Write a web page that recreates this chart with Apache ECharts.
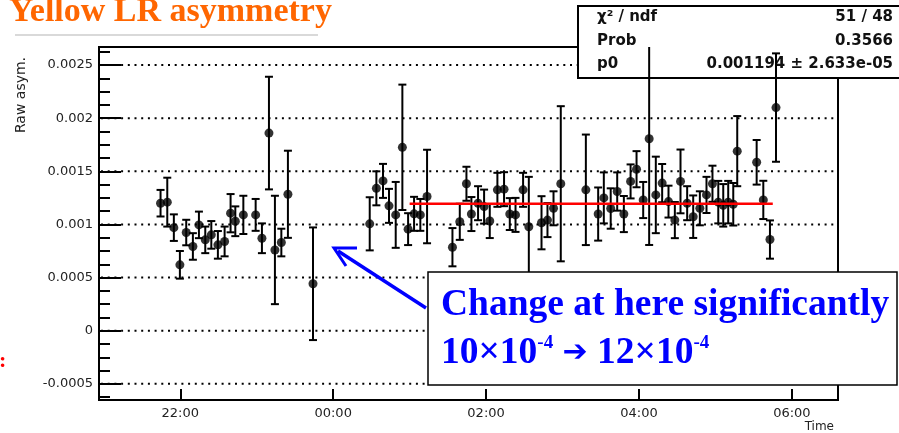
<!DOCTYPE html>
<html>
<head>
<meta charset="utf-8">
<script src="https://cdn.jsdelivr.net/npm/echarts@6/dist/echarts.min.js"></script>
<style>
  html, body { margin: 0; padding: 0; background: #fff; }
  #chart { width: 899px; height: 433px; }
</style>
</head>
<body>
<div id="chart"></div>
<script>
// ---- data (time in hours relative to 00:00) ----
const times = [
  -2.258, -2.170, -2.084, -2.005, -1.922, -1.835, -1.756, -1.673, -1.594, -1.508,
  -1.420, -1.342, -1.280, -1.175, -1.014, -0.932, -0.840, -0.762, -0.678, -0.592,
  -0.264,
  0.478, 0.565, 0.652, 0.730, 0.818, 0.905, 0.980, 1.058, 1.140, 1.228,
  1.560, 1.656, 1.743, 1.808, 1.895, 1.974, 2.048, 2.148, 2.235, 2.310,
  2.385, 2.484, 2.559, 2.725, 2.803, 2.882, 2.977, 3.305, 3.466, 3.540,
  3.630, 3.715, 3.802, 3.890, 3.968, 4.055, 4.133, 4.220, 4.303, 4.386,
  4.469, 4.543, 4.630, 4.709, 4.796, 4.883, 4.961, 5.037, 5.102, 5.167,
  5.233, 5.285, 5.539, 5.626, 5.713, 5.792
];
const values = [
  0.001200, 0.001210, 0.000970, 0.000620, 0.000924, 0.000793, 0.000996, 0.000855, 0.000902, 0.000808,
  0.000840, 0.001106, 0.001030, 0.001090, 0.001090, 0.000870, 0.001860, 0.000760, 0.000830, 0.001284,
  0.000442,
  0.001006, 0.001340, 0.001410, 0.001175, 0.001090, 0.001726, 0.000956, 0.001100, 0.001090, 0.001263,
  0.000786, 0.001025, 0.001383, 0.001098, 0.001200, 0.001168, 0.001032, 0.001326, 0.001332, 0.001098,
  0.001090, 0.001326, 0.000978, 0.001016, 0.001041, 0.001152, 0.001383, 0.001326, 0.001098, 0.001250,
  0.001150, 0.001310, 0.001098, 0.001405, 0.001520, 0.001230, 0.001807, 0.001278, 0.001389, 0.001215,
  0.001041, 0.001405, 0.001200, 0.001073, 0.001152, 0.001278, 0.001383, 0.001210, 0.001180, 0.001210,
  0.001190, 0.001690, 0.001585, 0.001231, 0.000858, 0.002100
];
const errors = [
  0.000125, 0.000230, 0.000125, 0.000130, 0.000120, 0.000125, 0.000125, 0.000125, 0.000130, 0.000130,
  0.000140, 0.000180, 0.000140, 0.000180, 0.000150, 0.000140, 0.000530, 0.000510, 0.000130, 0.000410,
  0.000530,
  0.000250, 0.000160, 0.000160, 0.000160, 0.000310, 0.000590, 0.000150, 0.000160, 0.000150, 0.000440,
  0.000180, 0.000170, 0.000160, 0.000160, 0.000160, 0.000160, 0.000160, 0.000160, 0.000160, 0.000150,
  0.000160, 0.000160, 0.000470, 0.000250, 0.000160, 0.000160, 0.000730, 0.000520, 0.000250, 0.000240,
  0.000190, 0.000180, 0.000170, 0.000160, 0.000170, 0.000170, 0.001000, 0.000360, 0.000180, 0.000150,
  0.000170, 0.000300, 0.000160, 0.000200, 0.000160, 0.000170, 0.000170, 0.000200, 0.000200, 0.000200,
  0.000200, 0.000330, 0.000210, 0.000180, 0.000180, 0.000510
];
// constant fit (p0) and its range
const fitP0 = 0.001194;
const fitRange = [1.0, 5.75];

// axis ticks
const xTicks = [-2, 0, 2, 4, 6];
const xTickLabels = ['22:00', '00:00', '02:00', '04:00', '06:00'];
const yTicks = [-0.0005, 0, 0.0005, 0.001, 0.0015, 0.002, 0.0025];
const yTickLabels = ['-0.0005', '0', '0.0005', '0.001', '0.0015', '0.002', '0.0025'];
const xRange = [-3.063, 6.603];
const yRange = [-0.000652, 0.00267];

// stats box text
const statNames = ['\u03c7\u00b2 / ndf', 'Prob', 'p0'];
const statValues = ['51 / 48', '0.3566', '0.001194 \u00b1 2.633e-05'];

// minor y ticks
const yMinor = [];
for (let k = -6; k <= 21; k++) { yMinor.push(k * 0.0005 / 4); }

const pts = times.map((t, i) => [t, values[i]]);
const bars = times.map((t, i) => [t, values[i] - errors[i], values[i] + errors[i]]);
const gridRows = yTicks.map(v => [xRange[0], v]);

const chart = echarts.init(document.getElementById('chart'), null, { renderer: 'canvas' });
const FONT = '"DejaVu Sans", sans-serif';
const txt = (x, y, text, font, fill, align, z) => ({
  type: 'text', x, y, z: z || 1,
  style: { text, fill, font, align: align || 'left', textAlign: align || 'left', verticalAlign: 'middle', textVerticalAlign: 'middle' }
});

const option = {
  backgroundColor: '#ffffff',
  animation: false,
  grid: { left: 99, right: 61, top: 47, bottom: 33, show: true, borderColor: '#000', borderWidth: 2, backgroundColor: 'transparent' },
  xAxis: {
    type: 'value', min: xRange[0], max: xRange[1],
    axisLine: { onZero: false, lineStyle: { color: '#000', width: 2 } },
    axisTick: { inside: true, length: 11, customValues: xTicks, lineStyle: { color: '#000', width: 2 } },
    axisLabel: { customValues: xTicks, margin: 7, color: '#222', fontFamily: FONT, fontSize: 13,
      formatter: v => { const i = xTicks.findIndex(t => Math.abs(t - v) < 1e-9); return i >= 0 ? xTickLabels[i] : ''; } },
    splitLine: { show: false }
  },
  yAxis: [{
    type: 'value', min: yRange[0], max: yRange[1],
    axisLine: { onZero: false, lineStyle: { color: '#000', width: 2 } },
    axisTick: { inside: true, length: 22, customValues: yTicks, lineStyle: { color: '#000', width: 2 } },
    axisLabel: { customValues: yTicks, margin: 6, color: '#222', fontFamily: FONT, fontSize: 13,
      formatter: v => { const i = yTicks.findIndex(t => Math.abs(t - v) < 1e-12); return i >= 0 ? yTickLabels[i] : ''; } },
    splitLine: { show: false }
  }, {
    type: 'value', min: yRange[0], max: yRange[1], position: 'left',
    axisLine: { show: false, onZero: false },
    axisTick: { inside: true, length: 11, customValues: yMinor, lineStyle: { color: '#000', width: 2 } },
    axisLabel: { show: false },
    splitLine: { show: false }
  }],
  series: [
    {
      name: 'gridlines', type: 'custom', z: 0, zlevel: 0, silent: true, data: gridRows,
      renderItem: (params, api) => {
        const cs = params.coordSys;
        const y = api.coord([api.value(0), api.value(1)])[1];
        return { type: 'line', shape: { x1: cs.x + 2, y1: y, x2: cs.x + cs.width, y2: y },
          style: { stroke: '#000', lineWidth: 2, lineDash: [2, 4.7] } };
      }
    },
    {
      name: 'errors', type: 'custom', clip: true, z: 5, data: bars,
      renderItem: (params, api) => {
        const x = api.value(0);
        const lo = api.coord([x, api.value(1)]);
        const hi = api.coord([x, api.value(2)]);
        const st = { stroke: '#000', lineWidth: 2 };
        const c = 4;
        return { type: 'group', children: [
          { type: 'line', shape: { x1: lo[0], y1: lo[1], x2: hi[0], y2: hi[1] }, style: st },
          { type: 'line', shape: { x1: lo[0] - c, y1: lo[1], x2: lo[0] + c, y2: lo[1] }, style: st },
          { type: 'line', shape: { x1: hi[0] - c, y1: hi[1], x2: hi[0] + c, y2: hi[1] }, style: st }
        ] };
      }
    },
    {
      name: 'Raw asym.', type: 'scatter', data: pts, symbol: 'circle', symbolSize: 9, z: 6,
      itemStyle: { color: '#000' }
    },
    {
      name: 'fit', type: 'line', z: 7, symbol: 'none',
      data: [[fitRange[0], fitP0], [fitRange[1], fitP0]],
      lineStyle: { color: '#ff0000', width: 2.5 }
    }
  ],
  graphic: [
    txt(9, 12, 'Yellow LR asymmetry', 'bold 34px "Liberation Serif", serif', '#ff6600', 'left', 50),
    { type: 'line', z: 50, shape: { x1: 15, y1: 35, x2: 318, y2: 35 }, style: { stroke: '#cccccc', lineWidth: 1.5 } },
    // stats box (above grid and gridlines, below data)
    { type: 'rect', z: 3, shape: { x: 578, y: 6, width: 330, height: 72 }, style: { fill: '#fff', stroke: '#000', lineWidth: 2 } },
    txt(597, 17, statNames[0], 'bold 15px "DejaVu Sans"', '#111', 'left', 4),
    txt(597, 41, statNames[1], 'bold 15px "DejaVu Sans"', '#111', 'left', 4),
    txt(597, 64, statNames[2], 'bold 15px "DejaVu Sans"', '#111', 'left', 4),
    txt(893, 17, statValues[0], 'bold 15px "DejaVu Sans"', '#111', 'right', 4),
    txt(893, 41, statValues[1], 'bold 15px "DejaVu Sans"', '#111', 'right', 4),
    txt(893, 64, statValues[2], 'bold 15px "DejaVu Sans"', '#111', 'right', 4),
    // axis titles
    { type: 'text', z: 50, x: 21, y: 95, rotation: Math.PI / 2, style: { text: 'Raw asym.', fill: '#222', font: '14px "DejaVu Sans"', align: 'center', textAlign: 'center', verticalAlign: 'middle', textVerticalAlign: 'middle' } },
    txt(834, 427, 'Time', '12px "DejaVu Sans"', '#222', 'right', 50),
    txt(-1, 361, ':', 'bold 22px "Liberation Serif"', '#ff0000', 'left', 50),
    // annotation
    { type: 'rect', z: 100, shape: { x: 428, y: 272, width: 469, height: 113 }, style: { fill: '#fff', stroke: '#000', lineWidth: 1.5 } },
    txt(441, 305, 'Change at here significantly', 'bold 37.5px "Liberation Serif", serif', '#0000ff', 'left', 101),
    { type: 'text', z: 101, x: 441, y: 353, style: {
        text: '10\u00d710{s|-4} {a|\u2794} 12\u00d710{s|-4}', fill: '#0000ff', font: 'bold 37.5px "Liberation Serif", serif', verticalAlign: 'middle', textVerticalAlign: 'middle',
        rich: {
          s: { fontSize: 19, fontWeight: 'bold', fontFamily: 'Liberation Serif', fill: '#0000ff', verticalAlign: 'top', lineHeight: 38 },
          a: { fontSize: 30, fontWeight: 'bold', fontFamily: 'DejaVu Sans', fill: '#0000ff', lineHeight: 38 }
        }
      } },
    { type: 'line', z: 100, shape: { x1: 426, y1: 308, x2: 338, y2: 251 }, style: { stroke: '#0000ff', lineWidth: 3.5 } },
    { type: 'polyline', z: 100, shape: { points: [[357, 248], [334, 248], [346, 266]] }, style: { stroke: '#0000ff', lineWidth: 3, fill: null } }
  ]
};
chart.setOption(option);
</script>
</body>
</html>
